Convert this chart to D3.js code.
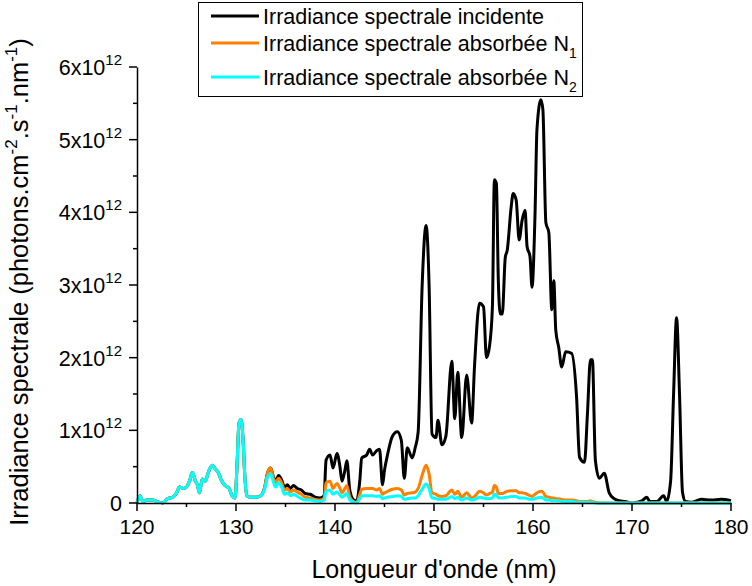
<!DOCTYPE html>
<html>
<head>
<meta charset="utf-8">
<script src="https://cdn.jsdelivr.net/npm/d3@7"></script>
<style>
  html, body { margin: 0; padding: 0; background: #fff; }
  svg { display: block; font-family: Arial, "Liberation Sans", sans-serif; }
</style>
</head>
<body>
<svg id="chart" width="752" height="586"></svg>
<script>
// Wavelength grid (nm)
const wavelength = [
  120.0,120.3,120.6,121.0,121.6,122.0,122.6,123.1,123.6,124.0,124.3,124.7,125.0,125.3,125.6,125.9,126.1,126.3,126.6,126.9,
  127.2,127.6,127.9,128.2,128.5,128.9,129.3,129.6,129.9,130.1,130.3,130.5,130.7,130.9,131.1,131.5,132.0,132.5,132.9,
  133.2,133.5,133.8,134.0,134.3,134.6,134.9,135.2,135.5,135.8,136.2,136.6,137.0,137.5,138.0,138.5,138.9,139.1,139.5,139.8,
  140.2,140.5,140.7,141.0,141.2,141.5,141.9,142.2,142.5,142.7,143.2,143.5,143.8,144.2,144.5,144.8,145.0,145.3,145.8,146.3,
  146.7,147.0,147.3,147.8,148.1,148.4,148.8,149.2,149.5,149.8,150.2,150.4,150.8,151.2,151.8,152.1,152.4,152.8,153.3,153.8,
  154.1,154.6,155.0,155.3,155.6,155.9,156.1,156.3,156.5,156.7,156.9,157.2,157.4,157.8,158.0,158.3,158.6,158.9,159.2,159.4,
  159.7,159.9,160.2,160.4,160.8,161.0,161.3,161.6,161.9,162.1,162.3,162.6,162.9,163.3,163.9,164.4,164.7,165.2,165.5,165.8,
  166.0,166.3,166.7,167.2,167.7,168.2,168.7,169.3,170.0,170.5,171.0,171.5,171.8,172.5,173.2,173.5,173.9,174.2,174.5,174.8,
  175.1,175.4,176.0,177.0,178.0,179.0,180.0
];

// Incident spectral irradiance (x1e12 photons.cm-2.s-1.nm-1)
const incident = [
  0.00,0.10,0.02,0.04,0.04,0.02,0.00,0.06,0.08,0.14,0.22,0.20,0.22,0.30,0.42,0.30,0.25,0.14,0.33,0.30,
  0.42,0.52,0.47,0.42,0.32,0.24,0.20,0.10,0.07,0.50,1.10,1.15,0.90,0.35,0.10,0.08,0.08,0.10,0.22,
  0.42,0.48,0.35,0.30,0.38,0.32,0.22,0.25,0.20,0.24,0.20,0.18,0.13,0.12,0.08,0.07,0.10,0.59,0.66,0.48,
  0.68,0.50,0.30,0.45,0.58,0.17,0.04,0.03,0.30,0.62,0.66,0.74,0.66,0.72,0.74,0.25,0.45,0.66,0.92,0.98,
  0.86,0.34,0.76,0.62,0.76,0.98,2.98,3.82,3.02,0.95,0.90,1.14,0.80,0.92,1.95,1.16,1.80,0.90,1.76,1.10,
  1.90,2.75,2.70,2.00,2.15,2.70,4.45,4.40,3.05,2.60,2.60,3.38,3.48,4.08,4.26,4.17,3.62,3.89,4.03,3.53,
  3.39,2.97,3.95,5.14,5.55,5.41,3.86,3.72,2.66,3.06,2.38,2.14,1.87,2.08,2.06,1.46,0.63,0.56,1.23,1.97,
  1.97,0.59,0.34,0.41,0.14,0.06,0.03,0.02,0.00,0.01,0.03,0.08,0.02,0.02,0.10,0.02,0.30,1.50,2.55,1.50,
  0.15,0.02,0.01,0.05,0.04,0.05,0.03
];

// Absorbed spectral irradiance N1
const absorbedN1 = [
  0.00,0.10,0.02,0.04,0.04,0.02,0.00,0.06,0.08,0.14,0.22,0.20,0.22,0.30,0.42,0.30,0.25,0.14,0.33,0.30,
  0.42,0.52,0.47,0.42,0.32,0.24,0.20,0.10,0.07,0.50,1.10,1.15,0.90,0.35,0.10,0.08,0.08,0.10,0.22,
  0.42,0.48,0.33,0.28,0.34,0.28,0.18,0.20,0.15,0.18,0.15,0.12,0.08,0.07,0.05,0.04,0.07,0.28,0.30,0.20,
  0.27,0.20,0.14,0.20,0.24,0.08,0.02,0.01,0.12,0.19,0.20,0.20,0.20,0.18,0.20,0.12,0.14,0.16,0.19,0.20,
  0.18,0.11,0.13,0.14,0.15,0.20,0.38,0.52,0.40,0.14,0.12,0.10,0.09,0.10,0.18,0.12,0.16,0.08,0.14,0.07,
  0.09,0.16,0.14,0.11,0.13,0.15,0.24,0.22,0.13,0.13,0.13,0.15,0.16,0.17,0.17,0.17,0.14,0.14,0.13,0.12,
  0.10,0.09,0.12,0.14,0.16,0.15,0.09,0.08,0.07,0.07,0.06,0.06,0.05,0.04,0.04,0.03,0.02,0.02,0.02,0.03,
  0.02,0.01,0.00,0.00,0.00,0.00,0.00,0.00,0.00,0.00,0.00,0.00,0.00,0.00,0.00,0.00,0.00,0.00,0.00,0.00,
  0.00,0.00,0.00,0.00,0.00,0.00,0.00
];

// Absorbed spectral irradiance N2
const absorbedN2 = [
  0.00,0.10,0.02,0.04,0.04,0.02,0.00,0.06,0.08,0.14,0.22,0.20,0.22,0.30,0.42,0.30,0.25,0.14,0.33,0.30,
  0.42,0.52,0.47,0.42,0.32,0.24,0.20,0.10,0.07,0.50,1.10,1.15,0.90,0.35,0.10,0.08,0.08,0.10,0.20,
  0.36,0.40,0.28,0.22,0.28,0.22,0.12,0.14,0.10,0.12,0.09,0.06,0.04,0.04,0.03,0.02,0.04,0.16,0.18,0.12,
  0.15,0.11,0.08,0.11,0.13,0.04,0.01,0.00,0.06,0.10,0.10,0.10,0.10,0.09,0.10,0.06,0.07,0.08,0.09,0.10,
  0.09,0.05,0.06,0.07,0.07,0.10,0.19,0.26,0.20,0.07,0.06,0.05,0.05,0.05,0.09,0.06,0.08,0.04,0.07,0.04,
  0.05,0.08,0.07,0.06,0.06,0.07,0.12,0.11,0.07,0.07,0.07,0.08,0.08,0.09,0.09,0.09,0.07,0.07,0.07,0.06,
  0.05,0.05,0.06,0.07,0.08,0.07,0.04,0.04,0.03,0.03,0.03,0.03,0.02,0.02,0.02,0.01,0.01,0.01,0.01,0.01,
  0.01,0.00,0.00,0.00,0.00,0.00,0.00,0.00,0.00,0.00,0.00,0.00,0.00,0.00,0.00,0.00,0.00,0.00,0.00,0.00,
  0.00,0.00,0.00,0.00,0.00,0.00,0.00
];

const xTicks = [120, 130, 140, 150, 160, 170, 180];
const yTicks = [0, 1, 2, 3, 4, 5, 6];   // x 1e12
const seriesNames = [
  ["Irradiance spectrale incidente", ""],
  ["Irradiance spectrale absorbée N", "1"],
  ["Irradiance spectrale absorbée N", "2"]
];
const seriesColors = ["#000000", "#ff7f00", "#00ffff"];

const svg = d3.select("#chart");
const m = { left: 137, right: 731, top: 67, bottom: 503 };
const x = d3.scaleLinear().domain([120, 180]).range([m.left, m.right]);
const y = d3.scaleLinear().domain([0, 6]).range([m.bottom, m.top]);

// Data lines
const seriesData = [incident, absorbedN1, absorbedN2];
const line = d3.line().x((d, i) => x(wavelength[i])).y(d => y(d)).curve(d3.curveMonotoneX);
seriesData.forEach((vals, k) => {
  svg.append("path")
    .datum(vals)
    .attr("d", line)
    .attr("fill", "none")
    .attr("stroke", seriesColors[k])
    .attr("stroke-width", 3)
    .attr("stroke-linejoin", "round");
});

// X axis
const gx = svg.append("g").attr("transform", `translate(0,${m.bottom})`);
gx.call(d3.axisBottom(x).tickValues(d3.range(120, 181, 5)).tickSize(0).tickFormat(""));
gx.select(".domain").attr("stroke", "#000").attr("stroke-width", 1.5);
gx.selectAll(".tick line").remove();
d3.range(120, 181, 5).forEach(v => {
  const major = xTicks.includes(v);
  gx.append("line").attr("x1", x(v)).attr("x2", x(v)).attr("y1", 0).attr("y2", major ? 8 : 4)
    .attr("stroke", "#000").attr("stroke-width", 1.5);
});
xTicks.forEach(v => {
  gx.append("text").attr("x", x(v)).attr("y", 31).attr("text-anchor", "middle")
    .attr("font-size", 21).attr("fill", "#000").text(v);
});

// Y axis
const gy = svg.append("g").attr("transform", `translate(${m.left},0)`);
gy.call(d3.axisLeft(y).tickValues([]).tickSize(0));
gy.select(".domain").attr("stroke", "#000").attr("stroke-width", 1.5);
d3.range(0, 6.01, 0.5).forEach(v => {
  const major = Math.abs(v - Math.round(v)) < 1e-6;
  gy.append("line").attr("x1", major ? -8 : -4).attr("x2", 0).attr("y1", y(v)).attr("y2", y(v))
    .attr("stroke", "#000").attr("stroke-width", 1.5);
});
yTicks.forEach(v => {
  const t = gy.append("text").attr("x", -15).attr("y", y(v) + 8).attr("text-anchor", "end")
    .attr("font-size", 21.5).attr("fill", "#000");
  if (v === 0) { t.text("0"); return; }
  t.append("tspan").text(v + "x10");
  t.append("tspan").attr("dy", -10).attr("font-size", 15).text("12");
});

// Axis titles
svg.append("text").attr("x", x(150)).attr("y", 578).attr("text-anchor", "middle")
  .attr("font-size", 25).attr("fill", "#000").text("Longueur d'onde (nm)");

const yt = svg.append("text").attr("transform", "translate(28,282) rotate(-90)")
  .attr("text-anchor", "middle").attr("font-size", 25.5).attr("fill", "#000");
yt.append("tspan").text("Irradiance spectrale (photons.cm");
yt.append("tspan").attr("dy", -11).attr("font-size", 17).text("-2");
yt.append("tspan").attr("dy", 11).text(".s");
yt.append("tspan").attr("dy", -11).attr("font-size", 17).text("-1");
yt.append("tspan").attr("dy", 11).text(".nm");
yt.append("tspan").attr("dy", -11).attr("font-size", 17).text("-1");
yt.append("tspan").attr("dy", 11).text(")");

// Legend
const lg = svg.append("g");
lg.append("rect").attr("x", 198.5).attr("y", 2.5).attr("width", 384).attr("height", 94)
  .attr("fill", "#fff").attr("stroke", "#000").attr("stroke-width", 1);
const rowY = [16, 43, 77];
seriesNames.forEach((nm, k) => {
  lg.append("line").attr("x1", 211).attr("x2", 259).attr("y1", rowY[k]).attr("y2", rowY[k])
    .attr("stroke", seriesColors[k]).attr("stroke-width", 3);
  const t = lg.append("text").attr("x", 263).attr("y", rowY[k] + 8).attr("font-size", 21.5).attr("fill", "#000");
  t.append("tspan").text(nm[0]);
  if (nm[1]) t.append("tspan").attr("dy", 7).attr("font-size", 14).text(nm[1]);
});
</script>
</body>
</html>
